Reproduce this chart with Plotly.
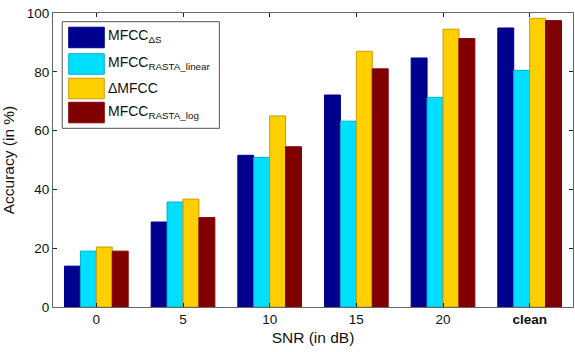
import plotly.graph_objects as go

categories = ["0", "5", "10", "15", "20", "clean"]
tick_labels = ["0", "5", "10", "15", "20", "<b>clean</b>"]
series_names = ["MFCC<sub>ΔS</sub>", "MFCC<sub>RASTA_linear</sub>", "ΔMFCC", "MFCC<sub>RASTA_log</sub>"]
mfcc_ds = [13.9, 28.9, 51.6, 72.1, 84.7, 94.9]
mfcc_rasta_linear = [19.0, 35.7, 50.9, 63.2, 71.3, 80.5]
delta_mfcc = [20.4, 36.7, 65.0, 87.0, 94.5, 98.2]
mfcc_rasta_log = [19.0, 30.4, 54.5, 81.0, 91.3, 97.4]

series_values = [mfcc_ds, mfcc_rasta_linear, delta_mfcc, mfcc_rasta_log]
fill_colors = ["#00008F", "#00DFFF", "#FFCF00", "#800000"]
edge_colors = ["#00008F", "#00B0CC", "#C89E00", "#800000"]

W, H = 575, 352
PL, PR, PT, PB = 53.3, 572.7, 13.3, 307.0   # plot area in window pixels
L, T = PL, PT
R = W - PR
B = H - PB
pw, ph = PR - PL, PB - PT

fig = go.Figure()
for name, vals, fc, ec in zip(series_names, series_values, fill_colors, edge_colors):
    fig.add_trace(go.Bar(x=categories, y=vals, name=name, showlegend=False,
                         marker=dict(color=fc, line=dict(color=ec, width=1))))

def px_x(p):
    return (p - PL) / pw

def px_y(p):
    return (PB - p) / ph

shapes = []
annotations = []
shapes.append(dict(type="rect", xref="paper", yref="paper",
                   x0=px_x(62.5), x1=px_x(219.5), y0=px_y(128.5), y1=px_y(22),
                   line=dict(color="#555555", width=1), fillcolor="white", layer="above"))
sw_tops = [27.5, 54, 78.5, 102.5]
sw_h = 20.5
for i, (name, fc, ec) in enumerate(zip(series_names, fill_colors, edge_colors)):
    t = sw_tops[i]
    shapes.append(dict(type="rect", xref="paper", yref="paper",
                       x0=px_x(69), x1=px_x(104.5), y0=px_y(t + sw_h), y1=px_y(t),
                       line=dict(color=ec, width=1), fillcolor=fc, layer="above"))
    annotations.append(dict(xref="paper", yref="paper", x=px_x(106), y=px_y(t + sw_h / 2 - 1),
                            text=name, showarrow=False, xanchor="left", yanchor="middle",
                            font=dict(family="Liberation Sans, Arial", size=14, color="#111")))

fig.update_layout(
    width=W, height=H,
    margin=dict(l=L, r=R, t=T, b=B),
    paper_bgcolor="white", plot_bgcolor="white",
    barmode="group", bargap=0.265, bargroupgap=0,
    font=dict(family="Liberation Sans, Arial", size=13, color="#111"),
    shapes=shapes, annotations=annotations,
    xaxis=dict(type="category", range=[-0.5, 5.5], tickmode="array", automargin=False,
               tickvals=categories, ticktext=tick_labels, ticklabeloverflow="allow",
               showline=True, linecolor="#666666", linewidth=1, mirror="ticks",
               ticks="inside", ticklen=4, tickcolor="#222", showgrid=False,
               title=dict(text="SNR (in dB)", font=dict(size=15.5), standoff=5),
               tickfont=dict(size=13.5)),
    yaxis=dict(range=[0, 100], tickvals=[0, 20, 40, 60, 80, 100], automargin=False,
               ticklabeloverflow="allow",
               showline=True, linecolor="#666666", linewidth=1, mirror="ticks",
               ticks="inside", ticklen=4, tickcolor="#222", showgrid=False, zeroline=False,
               title=dict(text="Accuracy (in %)", font=dict(size=15.5), standoff=11),
               tickfont=dict(size=13.5)),
)

fig.write_html("out.html", config={"displayModeBar": False},
               post_script="document.body.style.margin='0';document.body.style.padding='0';")
